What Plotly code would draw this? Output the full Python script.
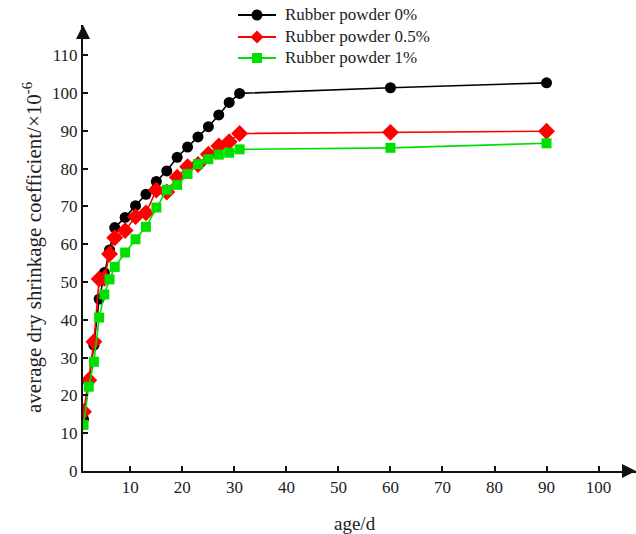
import plotly.graph_objects as go

# Curing age (days) and average dry shrinkage coefficient (x10^-6)
days = [1, 2, 3, 4, 5, 6, 7, 9, 11, 13, 15, 17, 19, 21, 23, 25, 27, 29, 31, 60, 90]
rubber_0 = [13.7, 23.5, 33.3, 45.5, 52.5, 58.5, 64.4, 67.1, 70.2, 73.2, 76.6, 79.4,
            83.0, 85.7, 88.4, 91.1, 94.2, 97.5, 99.9, 101.4, 102.7]
rubber_05 = [15.7, 24.0, 34.2, 50.8, 51.0, 57.4, 61.7, 63.6, 67.3, 68.3, 74.3, 73.8,
             77.7, 80.5, 81.1, 83.8, 86.0, 87.1, 89.3, 89.6, 89.9]
rubber_1 = [12.2, 22.3, 28.9, 40.6, 46.7, 50.7, 54.0, 57.8, 61.3, 64.6, 69.7, 74.4,
            75.7, 78.6, 81.2, 82.5, 83.7, 84.2, 85.1, 85.5, 86.7]

series_names = ["Rubber powder 0%", "Rubber powder 0.5%", "Rubber powder 1%"]
x_ticks = [10, 20, 30, 40, 50, 60, 70, 80, 90, 100]
y_ticks = [0, 10, 20, 30, 40, 50, 60, 70, 80, 90, 100, 110]

FONT = "Liberation Serif, Times New Roman, serif"
TXT = "#222"

W, H = 636, 534
L, R, T, B = 83, 0, 25, 63
pw, ph = W - L - R, H - T - B
Y0 = T + ph  # pixel row of the x axis


def px(x):
    return (x - L) / pw


def py(y):
    return (Y0 - y) / ph


fig = go.Figure()
styles = [
    (rubber_0, "black", "circle", 11),
    (rubber_05, "#ff0000", "diamond", 13),
    (rubber_1, "#00e000", "square", 10),
]
for name, (vals, color, sym, size) in zip(series_names, styles):
    fig.add_trace(go.Scatter(
        x=days, y=vals, name=name, mode="lines+markers",
        line=dict(color=color, width=1.6),
        marker=dict(color=color, symbol=sym, size=size),
        showlegend=False,
    ))

fig.update_layout(
    width=W, height=H,
    margin=dict(l=L, r=R, t=T, b=B, autoexpand=False),
    paper_bgcolor="white", plot_bgcolor="white",
    font=dict(family=FONT, size=17, color=TXT),
    showlegend=False,
    xaxis=dict(
        range=[0.9, 107.2], tickmode="array", tickvals=x_ticks,
        ticks="inside", ticklen=5, tickwidth=2, tickcolor="#111",
        showline=True, linecolor="#111", linewidth=2, showgrid=False, zeroline=False,
        tickfont=dict(family=FONT, size=17, color=TXT),
    ),
    yaxis=dict(
        range=[0, 118], tickmode="array", tickvals=y_ticks,
        ticks="inside", ticklen=5, tickwidth=2, tickcolor="#111",
        showline=True, linecolor="#111", linewidth=2, showgrid=False, zeroline=False,
        tickfont=dict(family=FONT, size=17, color=TXT),
    ),
)

# Arrowheads at the ends of both axes
fig.add_shape(type="path", xref="paper", yref="paper",
              path=f"M {-7/pw} {1-14/ph} L {7/pw} {1-14/ph} L 0 1 Z",
              fillcolor="#111", line=dict(width=0))
fig.add_shape(type="path", xref="paper", yref="paper",
              path=f"M {1-14/pw} {-7/ph} L {1-14/pw} {7/ph} L 1 0 Z",
              fillcolor="#111", line=dict(width=0))

# Legend drawn as line + marker + label rows above the plot
rows = [15, 37, 58]
for (name, (_, color, sym, _s)), ry in zip(zip(series_names, styles), rows):
    fig.add_shape(type="line", xref="paper", yref="paper",
                  x0=px(238), x1=px(276), y0=py(ry), y1=py(ry),
                  line=dict(color=color, width=2))
    cx = 257
    if sym == "circle":
        r = 5.5
        fig.add_shape(type="circle", xref="paper", yref="paper",
                      x0=px(cx - r), x1=px(cx + r), y0=py(ry + r), y1=py(ry - r),
                      fillcolor=color, line=dict(width=0))
    elif sym == "diamond":
        r = 6.5
        fig.add_shape(type="path", xref="paper", yref="paper",
                      path=(f"M {px(cx - r)} {py(ry)} L {px(cx)} {py(ry - r)} "
                            f"L {px(cx + r)} {py(ry)} L {px(cx)} {py(ry + r)} Z"),
                      fillcolor=color, line=dict(width=0))
    else:
        r = 5
        fig.add_shape(type="rect", xref="paper", yref="paper",
                      x0=px(cx - r), x1=px(cx + r), y0=py(ry + r), y1=py(ry - r),
                      fillcolor=color, line=dict(width=0))
    fig.add_annotation(text=name, xref="paper", yref="paper",
                       x=px(283), y=py(ry), xanchor="left", yanchor="middle",
                       showarrow=False, font=dict(family=FONT, size=17, color=TXT))

# Axis titles
fig.add_annotation(
    text="average dry shrinkage coefficient/×10<sup>-6</sup>",
    xref="paper", yref="paper", x=px(32), y=py(248),
    xanchor="center", yanchor="middle",
    textangle=-90, showarrow=False, font=dict(family=FONT, size=21, color=TXT),
)
fig.add_annotation(
    text="age/d", xref="paper", yref="paper", x=px(355), y=py(523),
    xanchor="center", yanchor="middle",
    showarrow=False, font=dict(family=FONT, size=19, color=TXT),
)

fig.write_html("out.html")
